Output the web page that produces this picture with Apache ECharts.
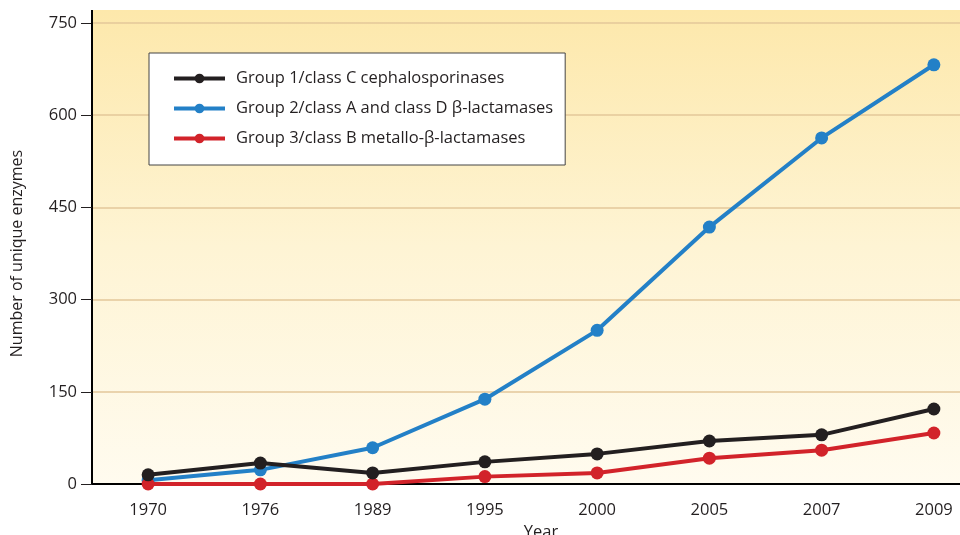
<!DOCTYPE html>
<html><head><meta charset="utf-8">
<script src="https://cdn.jsdelivr.net/npm/echarts@6/dist/echarts.min.js"></script>
<style>html,body{margin:0;padding:0;background:#fff}#c{width:960px;height:535px}</style>
</head><body><div id="c"></div>
<script>
const years = ['1970','1976','1989','1995','2000','2005','2007','2009'];
const group1 = [15, 34, 18, 36, 49, 70, 80, 122];
const group2 = [6, 23, 59, 138, 250, 418, 563, 682];
const group3 = [0, 0, 0, 12, 18, 42, 55, 83];
const yTicks = [0, 150, 300, 450, 600, 750];
const names = ['Group 1/class C cephalosporinases', 'Group 2/class A and class D \u03b2-lactamases', 'Group 3/class B metallo-\u03b2-lactamases'];
const colors = ['#231f20', '#2380c7', '#d2232a'];
const FONT = 'Open Sans';

const chart = echarts.init(document.getElementById('c'));
function mk(i, data, z) {
  return {
    name: names[i], type: 'line', data: data, z: z,
    symbol: 'circle', symbolSize: 13,
    lineStyle: { width: 4, color: colors[i] },
    itemStyle: { color: colors[i] },
    emphasis: { disabled: true }, animation: false
  };
}
chart.setOption({
  animation: false,
  textStyle: { fontFamily: FONT },
  graphic: [
    { type: 'rect', z: -10, silent: true, shape: { x: 93, y: 10, width: 867, height: 474 },
      style: { fill: new echarts.graphic.LinearGradient(0, 0, 0, 1, [
        { offset: 0, color: '#fde8ab' }, { offset: 0.5, color: '#fef4d4' }, { offset: 1, color: '#fffbef' }]) } },
    { type: 'line', z: 10, silent: true, shape: { x1: 92, y1: 10, x2: 92, y2: 24 }, style: { stroke: '#000', lineWidth: 2 } }
  ],
  grid: { left: 92, top: 23, bottom: 51, width: 898, containLabel: false, outerBoundsMode: 'none' },
  legend: {
    data: names, orient: 'vertical', left: 149, top: 53,
    backgroundColor: '#fff', borderColor: '#444', borderWidth: 1,
    padding: [17, 12, 18, 23], itemWidth: 51, itemHeight: 12, itemGap: 13,
    lineStyle: { width: 4 },
    textStyle: { fontFamily: FONT, fontSize: 16.5, color: '#231f20', padding: [0, 0, 0, 6] },
    selectedMode: false
  },
  xAxis: {
    type: 'category', data: years, boundaryGap: true,
    name: 'Year', nameLocation: 'middle', nameGap: 39,
    nameTextStyle: { fontFamily: FONT, fontSize: 16.5, color: '#231f20' },
    axisLine: { lineStyle: { color: '#000', width: 2 } },
    axisTick: { alignWithLabel: true, length: 10, lineStyle: { color: '#231f20', width: 1 } },
    axisLabel: { fontFamily: FONT, fontSize: 16.5, color: '#231f20', margin: 18 },
    splitLine: { show: false }
  },
  yAxis: {
    type: 'value', min: 0, max: 750, interval: 150,
    name: 'Number of unique enzymes', nameLocation: 'middle', nameGap: 67,
    nameTextStyle: { fontFamily: FONT, fontSize: 16, color: '#231f20' },
    axisLine: { show: true, lineStyle: { color: '#000', width: 2 } },
    axisTick: { show: true, length: 11, lineStyle: { color: '#231f20', width: 1 } },
    axisLabel: { fontFamily: FONT, fontSize: 16.5, color: '#231f20', margin: 15 },
    splitLine: { show: true, lineStyle: { color: '#e3c79a', width: 1.5 } }
  },
  series: [ mk(1, group2, 2), mk(2, group3, 3), mk(0, group1, 4) ]
});
</script></body></html>
